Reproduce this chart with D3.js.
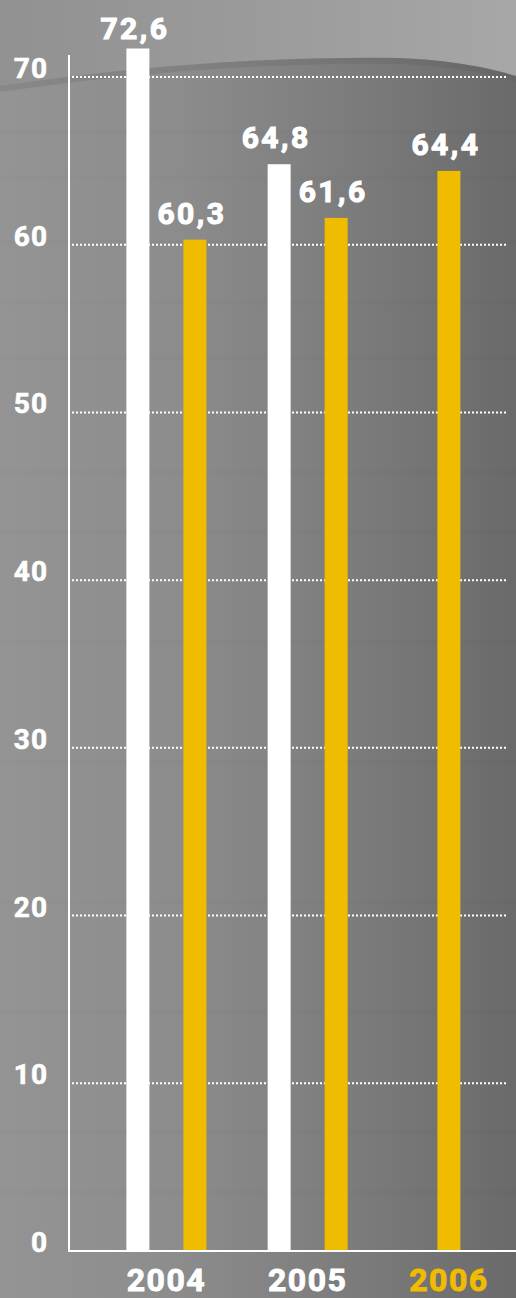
<!DOCTYPE html>
<html>
<head>
<meta charset="utf-8">
<script src="https://cdn.jsdelivr.net/npm/d3@7"></script>
<style>
  html, body { margin: 0; padding: 0; background: #808080; }
  svg { display: block; }
  text { font-family: Roboto, "DejaVu Sans", sans-serif; font-weight: 700; }
</style>
</head>
<body>
<div id="chart"></div>
<script>
// ---- data ----
const years = ["2004", "2005", "2006"];
const whiteValues = [72.6, 64.8, null];
const yellowValues = [60.3, 61.6, 64.4];
const yTicks = [0, 10, 20, 30, 40, 50, 60, 70];
const plotCeiling = 71.7; // bars are cut off at the top of the frame

// ---- layout ----
const W = 516, H = 1298;
const y0 = 1251, y70 = 77;
const barW = 23, barOffset = 17;
const WHITE = "#ffffff", YELLOW = "#f0bc00";

const svg = d3.select("#chart").append("svg").attr("width", W).attr("height", H);
const defs = svg.append("defs");

// background
const bg = defs.append("linearGradient").attr("id", "bgH").attr("x1", 0).attr("x2", 1).attr("y1", 0).attr("y2", 0);
bg.append("stop").attr("offset", 0).attr("stop-color", "#949494");
bg.append("stop").attr("offset", 0.35).attr("stop-color", "#8c8c8c");
bg.append("stop").attr("offset", 0.7).attr("stop-color", "#7b7b7b");
bg.append("stop").attr("offset", 1).attr("stop-color", "#6a6a6a");
svg.append("rect").attr("width", W).attr("height", H).attr("fill", "url(#bgH)");

// top light area with soft curved shadow edge
const topG = defs.append("linearGradient").attr("id", "topG").attr("x1", 0).attr("x2", 1).attr("y1", 0).attr("y2", 0);
topG.append("stop").attr("offset", 0).attr("stop-color", "#919191");
topG.append("stop").attr("offset", 0.5).attr("stop-color", "#9b9b9b");
topG.append("stop").attr("offset", 1).attr("stop-color", "#a7a7a7");
const curve = "M0,86 C120,68 260,56 400,58 C450,60 490,68 516,76";
svg.append("path").attr("d", curve + " L516,0 L0,0 Z").attr("fill", "url(#topG)");
svg.append("path").attr("d", curve).attr("fill", "none").attr("stroke", "#555").attr("stroke-opacity", 0.18).attr("stroke-width", 6).attr("transform", "translate(0,3)");

// faint horizontal texture bands
const bands = [130, 175, 240, 300, 355, 470, 530, 640, 760, 900, 1010, 1130, 1190];
svg.append("g").selectAll("rect").data(bands).join("rect")
  .attr("x", 0).attr("width", W).attr("y", d => d).attr("height", 5)
  .attr("fill", "#000").attr("opacity", 0.012);

// ---- scales ----
const y = d3.scaleLinear().domain([0, 70]).range([y0, y70]);
const x = d3.scalePoint().domain(years).range([166.4, 448.9]);

// gridlines
svg.append("g").selectAll("line").data(yTicks.filter(d => d > 0)).join("line")
  .attr("x1", 72).attr("x2", 506)
  .attr("y1", d => y(d)).attr("y2", d => y(d))
  .attr("stroke", "#fff").attr("stroke-width", 2).attr("stroke-dasharray", "2,2");

// tick labels
svg.append("g").selectAll("text").data(yTicks).join("text")
  .attr("x", 48).attr("y", d => y(d) + 1)
  .attr("text-anchor", "end").attr("fill", "#fff")
  .attr("stroke", "#fff").attr("stroke-width", 0.6)
  .attr("font-size", 28).attr("letter-spacing", 1)
  .text(d => d);

// bars
defs.append("clipPath").attr("id", "frame").append("rect")
  .attr("x", 0).attr("width", W).attr("y", y(plotCeiling)).attr("height", y0 - y(plotCeiling));

const bars = [];
years.forEach((yr, i) => {
  const both = whiteValues[i] != null && yellowValues[i] != null;
  if (whiteValues[i] != null) bars.push({ yr, v: whiteValues[i], color: WHITE, cx: x(yr) - (both ? barOffset + barW / 2 : 0) });
  if (yellowValues[i] != null) bars.push({ yr, v: yellowValues[i], color: YELLOW, cx: x(yr) + (both ? barOffset + barW / 2 : 0) });
});

svg.append("g").attr("clip-path", "url(#frame)").selectAll("rect").data(bars).join("rect")
  .attr("x", d => d.cx - barW / 2).attr("width", barW)
  .attr("y", d => y(d.v)).attr("height", d => y0 - y(d.v))
  .attr("fill", d => d.color);

// value labels
const fmt = v => d3.format(".1f")(v).replace(".", ",");
svg.append("g").selectAll("text").data(bars).join("text")
  .attr("x", d => d.cx - 3)
  .attr("y", d => y(Math.min(d.v, plotCeiling)) - (d.v > plotCeiling ? 9 : 16))
  .attr("text-anchor", "middle").attr("fill", "#fff")
  .attr("stroke", "#fff").attr("stroke-width", 1.1)
  .attr("font-size", 30).attr("letter-spacing", 2.5)
  .text(d => fmt(d.v));

// axes
svg.append("line").attr("x1", 69).attr("x2", 69).attr("y1", 55).attr("y2", y0 + 1)
  .attr("stroke", "#fff").attr("stroke-width", 2);
svg.append("line").attr("x1", 68).attr("x2", W).attr("y1", y0).attr("y2", y0)
  .attr("stroke", "#fff").attr("stroke-width", 2);

// year labels
svg.append("g").selectAll("text").data(years).join("text")
  .attr("x", d => x(d)).attr("y", 1291)
  .attr("text-anchor", "middle")
  .attr("fill", (d, i) => i === years.length - 1 ? YELLOW : "#fff")
  .attr("stroke", (d, i) => i === years.length - 1 ? YELLOW : "#fff")
  .attr("stroke-width", 0.9)
  .attr("font-size", 32).attr("letter-spacing", 1.5)
  .text(d => d);
</script>
</body>
</html>
